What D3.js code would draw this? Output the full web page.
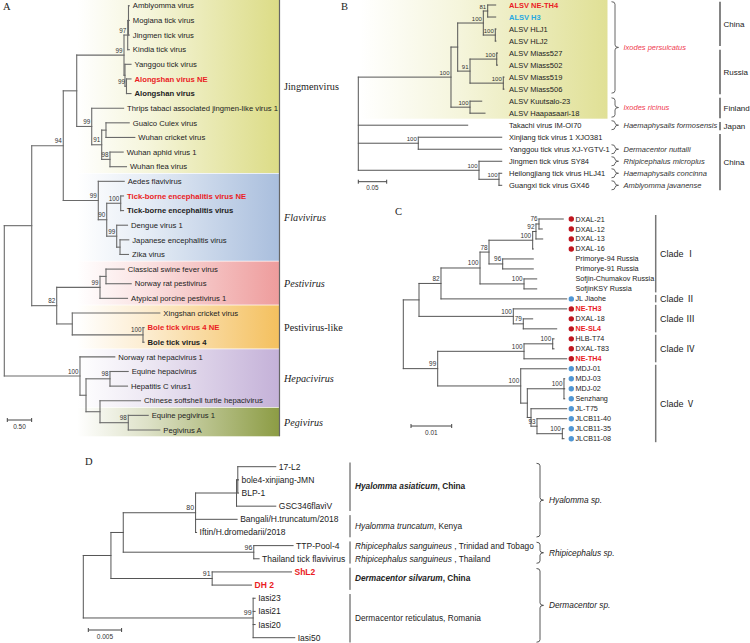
<!DOCTYPE html>
<html><head><meta charset="utf-8">
<script src="https://cdn.jsdelivr.net/npm/d3@7"></script>
<style>body{margin:0;background:#fff}svg{display:block}</style>
</head><body><svg id="c" width="750" height="643"></svg>
<script>
// ---------------- DATA ----------------
// Trees: d = distance from root (substitutions/site), s = bootstrap support, n = taxon name
const treeA = {d:0, c:[
  {d:0.563, c:[
    {d:1.211, s:94, c:[
      {d:1.487, c:[
        {d:2.458, s:99, c:[
          {d:2.534, s:97, c:[
            {d:2.550, c:[{d:2.567,n:"Amblyomma virus"},{d:2.567,n:"Mogiana tick virus"},{d:2.567,n:"Jingmen tick virus"}]},
            {d:2.567,n:"Kindia tick virus"}]},
          {d:2.478, c:[
            {d:2.602,n:"Yanggou tick virus"},
            {d:2.509, s:99, c:[{d:2.602,n:"Alongshan virus NE"},{d:2.602,n:"Alongshan virus"}]}]}]},
        {d:1.795, s:99, c:[
          {d:2.45, n:"Thrips tabaci associated jingmen-like virus 1"},
          {d:2.0, s:91, c:[
            {d:2.088, c:[{d:2.565,n:"Guaico Culex virus"},{d:2.68,n:"Wuhan cricket virus"}]},
            {d:2.170, s:98, c:[{d:2.441,n:"Wuhan aphid virus 1"},{d:2.509,n:"Wuhan flea virus"}]}]}]}]},
      {d:1.930, s:99, c:[
        {d:2.462, n:"Aedes flavivirus"},
        {d:2.103, s:90, c:[
          {d:2.390, s:100, c:[{d:2.448,n:"Tick-borne encephalitis virus NE"},{d:2.448,n:"Tick-borne encephalitis virus"}]},
          {d:2.308, s:99, c:[{d:2.530,n:"Dengue virus 1"},
            {d:2.376, c:[{d:2.556,n:"Japanese encephalitis virus"},{d:2.550,n:"Zika virus"}]}]}]}]}]},
    {d:1.076, s:82, c:[
      {d:1.965, s:99, c:[
        {d:2.088, c:[{d:2.462,n:"Classical swine fever virus"},{d:2.606,n:"Norway rat pestivirus"}]},
        {d:2.530, n:"Atypical porcine pestivirus 1"}]},
      {d:1.396, c:[
        {d:3.193, n:"Xingshan cricket virus"},
        {d:2.848, s:100, c:[{d:2.87,n:"Bole tick virus 4 NE"},{d:2.87,n:"Bole tick virus 4"}]}]}]}]},
  {d:1.554, s:100, c:[
    {d:2.269, n:"Norway rat hepacivirus 1"},
    {d:1.678, c:[
      {d:2.170, s:98, c:[{d:2.544,n:"Equine hepacivirus"},{d:2.530,n:"Hepatitis C virus1"}]},
      {d:1.965, c:[
        {d:2.797, n:"Chinese softshell turtle hepacivirus"},
        {d:2.546, s:98, c:[{d:2.955,n:"Equine pegivirus 1"},{d:3.193,n:"Pegivirus A"}]}]}]}]}]};
const groupsA = [
  {rows:[0,11], label:"Jingmenvirus"},
  {rows:[12,17], label:"Flavivirus"},
  {rows:[18,20], label:"Pestivirus"},
  {rows:[21,23], label:"Pestivirus-like"},
  {rows:[24,27], label:"Hepacivirus"},
  {rows:[28,29], label:"Pegivirus"}];
const newA = ["Alongshan virus NE","Tick-borne encephalitis virus NE","Bole tick virus 4 NE"];
const refA = ["Alongshan virus","Tick-borne encephalitis virus","Bole tick virus 4"];
const scaleA = 0.5;

const treeB = {d:0, c:[
  {d:0.1632, s:100, c:[
    {d:0.1750, c:[
      {d:0.2201, s:100, c:[
        {d:0.2278, s:81, c:[{d:0.2419,n:"ALSV NE-TH4"},{d:0.2419,n:"ALSV H3"}]},
        {d:0.2412, s:100, c:[{d:0.2424,n:"ALSV HLJ1"},{d:0.2424,n:"ALSV HLJ2"}]}]},
      {d:0.1967, s:91, c:[
        {d:0.2437, s:100, c:[{d:0.2451,n:"ALSV Miass527"},{d:0.2451,n:"ALSV Miass502"}]},
        {d:0.2553, s:100, c:[{d:0.2565,n:"ALSV Miass519"},{d:0.2565,n:"ALSV Miass506"}]}]}]},
    {d:0.1967, s:100, c:[{d:0.2173,n:"ALSV Kuutsalo-23"},{d:0.2231,n:"ALSV Haapasaari-18"}]}]},
  {d:0.1926, n:"Takachi virus IM-OI70"},
  {d:0.1056, s:100, c:[{d:0.2525,n:"Xinjiang tick virus 1 XJO381"},{d:0.2525,n:"Yanggou tick virus XJ-YGTV-1"}]},
  {d:0.2125, s:100, c:[{d:0.2525,n:"Jingmen tick virus SY84"},
    {d:0.2477, s:100, c:[{d:0.2525,n:"Heilongjiang tick virus HLJ41"},{d:0.2525,n:"Guangxi tick virus GX46"}]}]}]};
const hostsB = [
  {rows:[0,7], label:"Ixodes persulcatus"},
  {rows:[8,9], label:"Ixodes ricinus"},
  {rows:[10,10], label:"Haemaphysalis formosensis"},
  {rows:[12,12], label:"Dermacentor nuttalli"},
  {rows:[13,13], label:"Rhipicephalus microplus"},
  {rows:[14,14], label:"Haemaphysalis concinna"},
  {rows:[15,15], label:"Amblyomma javanense"}];
const countriesB = [
  {rows:[0,3], label:"China"}, {rows:[4,7], label:"Russia"}, {rows:[8,9], label:"Finland"},
  {rows:[10,10], label:"Japan"}, {rows:[11,15], label:"China"}];
const newB = ["ALSV NE-TH4"], h3B = ["ALSV H3"], ixodesB = ["Ixodes persulcatus","Ixodes ricinus"];
const scaleB = 0.05;

const treeC = {d:0, c:[
  {d:0.00386, c:[
    {d:0.00926, s:82, c:[
      {d:0.01885, s:100, c:[
        {d:0.02106, s:78, c:[
          {d:0.03179, s:100, c:[
            {d:0.03260, s:92, c:[
              {d:0.03334, s:76, c:[{d:0.03931,n:"DXAL-21"},{d:0.03415,n:"DXAL-12"}]},
              {d:0.03425,n:"DXAL-13"}]},
            {d:0.03194,n:"DXAL-16"}]},
          {d:0.02442, s:96, c:[{d:0.03194,n:"Primorye-94 Russia"},{d:0.03194,n:"Primorye-91 Russia"}]}]},
        {d:0.02966, s:100, c:[{d:0.03278,n:"Sofjin-Chumakov Russia"},{d:0.03278,n:"SofjinKSY Russia"}]}]},
      {d:0.04015,n:"JL Jiaohe"}]},
    {d:0.02703, s:100, c:[
      {d:0.04015,n:"NE-TH3"},
      {d:0.02948, s:79, c:[{d:0.03179,n:"DXAL-18"},{d:0.03769,n:"NE-SL4"}]}]}]},
  {d:0.00845, s:99, c:[
    {d:0.02966, s:100, c:[
      {d:0.03671, s:100, c:[{d:0.03703,n:"HLB-T74"},{d:0.03703,n:"DXAL-T83"}]},
      {d:0.04015,n:"NE-TH4"}]},
    {d:0.02885, s:100, c:[
      {d:0.04015,n:"MDJ-01"},
      {d:0.03047, c:[
        {d:0.03948, s:100, c:[{d:0.03966,n:"MDJ-03"},{d:0.03966,n:"MDJ-02"},{d:0.03966,n:"Senzhang"}]},
        {d:0.03138, c:[
          {d:0.04015,n:"JL-T75"},
          {d:0.03285, s:93, c:[{d:0.04015,n:"JLCB11-40"},
            {d:0.03907, s:100, c:[{d:0.03948,n:"JLCB11-35"},{d:0.03948,n:"JLCB11-08"}]}]}]}]}]}]}]};
const clustersC = [
  {rows:[0,7], label:"Clade Ⅰ"}, {rows:[8,8], label:"Clade Ⅱ"}, {rows:[9,11], label:"Clade Ⅲ"},
  {rows:[12,14], label:"Clade Ⅳ"}, {rows:[15,22], label:"Clade Ⅴ"}];
const redDotC = ["DXAL-21","DXAL-12","DXAL-13","DXAL-16","NE-TH3","DXAL-18","NE-SL4","HLB-T74","DXAL-T83","NE-TH4"];
const blueDotC = ["JL Jiaohe","MDJ-01","MDJ-03","MDJ-02","Senzhang","JL-T75","JLCB11-40","JLCB11-35","JLCB11-08"];
const newC = ["NE-TH3","NE-SL4","NE-TH4"];
const scaleC = 0.01;

const treeD = {d:0, c:[
  {d:0.00415, c:[
    {d:0.0060, c:[
      {d:0.01686, s:80, c:[
        {d:0.02301, c:[
          {d:0.0232, c:[{d:0.0289,n:"17-L2"},{d:0.02331,n:"bole4-xinjiang-JMN"},{d:0.02331,n:"BLP-1"}]},
          {d:0.0289,n:"GSC346flaviV"}]},
        {d:0.0231,n:"Bangali/H.truncatum/2018"},
        {d:0.01701,n:"Iftin/H.dromedarii/2018"}]},
      {d:0.0256, s:96, c:[{d:0.0315,n:"TTP-Pool-4"},{d:0.0264,n:"Thailand tick flavivirus"}]}]},
    {d:0.01935, s:91, c:[{d:0.03126,n:"ShL2"},{d:0.02526,n:"DH 2"}]}]},
  {d:0.0255, s:99, c:[{d:0.0258,n:"Iasi23"},{d:0.0258,n:"Iasi21"},{d:0.0258,n:"Iasi20"},{d:0.03175,n:"Iasi50"}]}]};
const hostBarsD = [[0,3],[4,5],[6,7],[8,9],[10,13]];
const hostTextsD = [
  {rows:[0,3], sp:"Hyalomma asiaticum", rest:", China"},
  {rows:[4,5], sp:"Hyalomma truncatum", rest:", Kenya"},
  {rows:[6,6], sp:"Rhipicephalus sanguineus", rest:" , Trinidad and Tobago"},
  {rows:[7,7], sp:"Rhipicephalus sanguineus", rest:" , Thailand"},
  {rows:[8,9], sp:"Dermacentor silvarum", rest:", China"},
  {rows:[10,13], sp:"", rest:"Dermacentor reticulatus, Romania"}];
const boldHostD = [0, 4];
const generaD = [
  {rows:[0,5], label:"Hyalomma sp."}, {rows:[6,7], label:"Rhipicephalus sp."}, {rows:[8,13], label:"Dermacentor sp."}];
const newD = ["ShL2","DH 2"];
const scaleD = 0.005;

// ---------------- DRAWING ----------------
const SANS = "'Liberation Sans', Arial, sans-serif";
const SERIF = "'Liberation Serif', 'Times New Roman', serif";
const RED = "#ea1c24";
const svg = d3.select("#c");
const defs = svg.append("defs");

function layout(tree, xs, ys) {
  const root = d3.hierarchy(tree, d => d.c);
  root.leaves().forEach((l, i) => { l.row = i; l.py = ys(i); });
  root.eachAfter(n => {
    n.px = xs(n.data.d);
    if (n.children) n.py = (n.children[0].py + n.children[n.children.length - 1].py) / 2;
  });
  return root;
}
function drawTree(g, root, o) {
  g.selectAll(null).data(root.descendants().filter(n => n.parent)).join("line")
    .attr("x1", n => n.parent.px).attr("x2", n => n.px).attr("y1", n => n.py).attr("y2", n => n.py)
    .attr("stroke", o.stroke).attr("stroke-width", o.sw).attr("stroke-linecap", "square");
  g.selectAll(null).data(root.descendants().filter(n => n.children)).join("line")
    .attr("x1", n => n.px).attr("x2", n => n.px)
    .attr("y1", n => n.children[0].py).attr("y2", n => n.children[n.children.length - 1].py)
    .attr("stroke", o.stroke).attr("stroke-width", o.sw).attr("stroke-linecap", "square");
  g.selectAll(null).data(root.descendants().filter(n => n.data.s != null)).join("text")
    .attr("x", n => n.px - 1.5).attr("y", n => n.py - 2.5).attr("text-anchor", "end")
    .attr("font-family", SANS).attr("font-size", o.bs).attr("fill", "#333").text(n => n.data.s);
}
function scaleBar(g, xs, len, x0, y, fs, label) {
  const w = xs(len) - xs(0);
  g.append("path").attr("d", `M${x0},${y-2}V${y+2}M${x0},${y}H${x0+w}M${x0+w},${y-2}V${y+2}`)
    .attr("stroke", "#444").attr("stroke-width", 1).attr("fill", "none");
  g.append("text").attr("x", x0 + w / 2).attr("y", y + 8.5).attr("text-anchor", "middle")
    .attr("font-family", SANS).attr("font-size", fs).attr("fill", "#333").text(label);
}
function brace(g, x, top, bot, stroke) {
  const mid = (top + bot) / 2, r = Math.min(2.5, (bot - top) / 4);
  g.append("path").attr("d",
    `M${x-3.5},${top}Q${x},${top} ${x},${top+r}V${mid-r}Q${x},${mid} ${x+3.5},${mid}Q${x},${mid} ${x},${mid+r}V${bot-r}Q${x},${bot} ${x-3.5},${bot}`)
    .attr("fill", "none").attr("stroke", stroke).attr("stroke-width", 0.9);
}
function panelLetter(x, y, t) {
  svg.append("text").attr("x", x).attr("y", y).attr("font-family", SERIF).attr("font-size", 10.5).attr("fill", "#222").text(t);
}

// ===== Panel A =====
{
  const g = svg.append("g");
  const xs = d3.scaleLinear().domain([0, 1]).range([4.3, 53]);
  const ys = d3.scaleLinear().domain([0, 29]).range([5.8, 430]);
  const colors = ["#dcdc86", "#a9bedd", "#ee9c9c", "#f4c05e", "#c4b1d8", "#8c9c44"];
  groupsA.forEach((gr, i) => {
    const id = "gA" + i;
    const lg = defs.append("linearGradient").attr("id", id);
    lg.append("stop").attr("offset", "0").attr("stop-color", "#fff");
    lg.append("stop").attr("offset", "0.35").attr("stop-color", d3.interpolateRgb("#fff", colors[i])(0.3));
    lg.append("stop").attr("offset", "1").attr("stop-color", colors[i]);
    const top = i === 0 ? 0 : ys(gr.rows[0]) - 7.6;
    const bot = ys(gr.rows[1]) + 6.3;
    g.append("rect").attr("x", 77).attr("y", top).attr("width", 202.5).attr("height", bot - top)
      .attr("fill", `url(#${id})`);
    const it = !(gr.label === "Jingmenvirus" || gr.label === "Pestivirus-like");
    g.append("text").attr("x", 284).attr("y", (ys(gr.rows[0]) + ys(gr.rows[1])) / 2 + 3.5)
      .attr("font-family", SERIF).attr("font-size", 10.2).attr("font-style", it ? "italic" : "normal")
      .attr("fill", "#222").text(gr.label);
  });
  g.append("line").attr("x1", 279.5).attr("x2", 279.5).attr("y1", 0).attr("y2", ys(29) + 6.3)
    .attr("stroke", "#666").attr("stroke-width", 1.2);
  const root = layout(treeA, xs, ys);
  drawTree(g, root, {stroke: "#6a6a6a", sw: 1.1, bs: 6.3});
  g.selectAll(null).data(root.leaves()).join("text")
    .attr("x", n => n.px + 3.5).attr("y", n => n.py).attr("dy", "0.35em")
    .attr("font-family", SANS).attr("font-size", 7.7)
    .attr("font-weight", n => newA.includes(n.data.n) || refA.includes(n.data.n) ? "bold" : "normal")
    .attr("fill", n => newA.includes(n.data.n) ? RED : "#222").text(n => n.data.n);
  scaleBar(g, xs, scaleA, 7.3, 420, 6.5, "0.50");
  panelLetter(3, 10, "A");
}

// ===== Panel B =====
{
  const g = svg.append("g");
  const xs = d3.scaleLinear().domain([0, 0.05]).range([358.3, 386.7]);
  const ys = d3.scaleLinear().domain([0, 15]).range([5, 185.3]);
  const lg = defs.append("linearGradient").attr("id", "gB");
  lg.append("stop").attr("offset", "0").attr("stop-color", "#fff");
  lg.append("stop").attr("offset", "0.4").attr("stop-color", "#f5f5dc");
  lg.append("stop").attr("offset", "1").attr("stop-color", "#e0e095");
  g.append("rect").attr("x", 360).attr("y", 0).attr("width", 247.5).attr("height", 118.7).attr("fill", "url(#gB)");
  const root = layout(treeB, xs, ys);
  drawTree(g, root, {stroke: "#555", sw: 1, bs: 6});
  g.selectAll(null).data(root.leaves()).join("text")
    .attr("x", 509).attr("y", n => n.py).attr("dy", "0.35em")
    .attr("font-family", SANS).attr("font-size", 7.5)
    .attr("font-weight", n => newB.includes(n.data.n) || h3B.includes(n.data.n) ? "bold" : "normal")
    .attr("fill", n => newB.includes(n.data.n) ? RED : h3B.includes(n.data.n) ? "#27a9e1" : "#222")
    .text(n => n.data.n);
  hostsB.forEach(h => {
    const top = ys(h.rows[0]) - (h.rows[0] === h.rows[1] ? 4.5 : 3.3);
    const bot = ys(h.rows[1]) + (h.rows[0] === h.rows[1] ? 4.5 : 4);
    brace(g, 615, top, bot, "#555");
    g.append("text").attr("x", 623.5).attr("y", (top + bot) / 2).attr("dy", "0.35em")
      .attr("font-family", SANS).attr("font-size", 7.5).attr("font-style", "italic")
      .attr("fill", ixodesB.includes(h.label) ? "#ef3b4f" : "#333").text(h.label);
  });
  countriesB.forEach(c => {
    const top = ys(c.rows[0]) - 3.3, bot = ys(c.rows[1]) + 5;
    g.append("line").attr("x1", 720).attr("x2", 720).attr("y1", top).attr("y2", bot)
      .attr("stroke", "#333").attr("stroke-width", 1.2);
    g.append("text").attr("x", 723.5).attr("y", (top + bot) / 2).attr("dy", "0.35em")
      .attr("font-family", SANS).attr("font-size", 8).attr("fill", "#222").text(c.label);
  });
  scaleBar(g, xs, scaleB, 358.3, 181.7, 6.3, "0.05");
  panelLetter(341, 10, "B");
}

// ===== Panel C =====
{
  const g = svg.append("g");
  const xs = d3.scaleLinear().domain([0, 0.01]).range([403.3, 444]);
  const ys = d3.scaleLinear().domain([0, 22]).range([219, 438.7]);
  const root = layout(treeC, xs, ys);
  drawTree(g, root, {stroke: "#555", sw: 1, bs: 6.4});
  const leaves = root.leaves();
  g.selectAll(null).data(leaves.filter(n => redDotC.includes(n.data.n) || blueDotC.includes(n.data.n))).join("circle")
    .attr("cx", 571.3).attr("cy", n => n.py).attr("r", 2.7)
    .attr("fill", n => redDotC.includes(n.data.n) ? "#c0161f" : "#4f96d4");
  g.selectAll(null).data(leaves).join("text")
    .attr("x", 575.5).attr("y", n => n.py).attr("dy", "0.35em")
    .attr("font-family", SANS).attr("font-size", 7.2)
    .attr("font-weight", n => newC.includes(n.data.n) ? "bold" : "normal")
    .attr("fill", n => newC.includes(n.data.n) ? RED : "#222").text(n => n.data.n);
  clustersC.forEach(c => {
    const top = ys(c.rows[0]) - 4, bot = ys(c.rows[1]) + 3.5;
    g.append("line").attr("x1", 655.7).attr("x2", 655.7).attr("y1", top).attr("y2", bot)
      .attr("stroke", "#777").attr("stroke-width", 1.5);
    g.append("text").attr("x", 660).attr("y", (top + bot) / 2).attr("dy", "0.35em")
      .attr("font-family", SANS + ", 'Noto Sans CJK SC'").attr("font-size", 9).attr("fill", "#222").text(c.label);
  });
  scaleBar(g, xs, scaleC, 411, 426, 6.5, "0.01");
  panelLetter(395, 215, "C");
}

// ===== Panel D =====
{
  const g = svg.append("g");
  const xs = d3.scaleLinear().domain([0, 0.005]).range([83.3, 116.6]);
  const ys = d3.scaleLinear().domain([0, 13]).range([466.7, 637.7]);
  const root = layout(treeD, xs, ys);
  drawTree(g, root, {stroke: "#555", sw: 1, bs: 7});
  g.selectAll(null).data(root.leaves()).join("text")
    .attr("x", n => n.px + 3).attr("y", n => n.py).attr("dy", "0.35em")
    .attr("font-family", SANS).attr("font-size", 8.5)
    .attr("font-weight", n => newD.includes(n.data.n) ? "bold" : "normal")
    .attr("fill", n => newD.includes(n.data.n) ? RED : "#222").text(n => n.data.n);
  hostBarsD.forEach(r => {
    g.append("line").attr("x1", 350).attr("x2", 350).attr("y1", ys(r[0]) - 4.2).attr("y2", ys(r[1]) + 4.8)
      .attr("stroke", "#444").attr("stroke-width", 1);
  });
  hostTextsD.forEach((h, i) => {
    const b = boldHostD.includes(i);
    const t = g.append("text").attr("x", 355).attr("y", (ys(h.rows[0]) + ys(h.rows[1])) / 2).attr("dy", "0.35em")
      .attr("font-family", SANS).attr("font-size", 8.3).attr("fill", "#222").attr("font-weight", b ? "bold" : "normal");
    if (h.sp) t.append("tspan").attr("font-style", "italic").text(h.sp);
    t.append("tspan").text(h.rest);
  });
  generaD.forEach(h => {
    const top = ys(h.rows[0]) - 3.4, bot = ys(h.rows[1]) + 4.5;
    brace(g, 540, top, bot, "#444");
    g.append("text").attr("x", 549).attr("y", (top + bot) / 2).attr("dy", "0.35em")
      .attr("font-family", SANS).attr("font-size", 8.3).attr("font-style", "italic").attr("fill", "#222").text(h.label);
  });
  scaleBar(g, xs, scaleD, 88.3, 630, 6.5, "0.005");
  panelLetter(85, 465, "D");
}
</script></body></html>
